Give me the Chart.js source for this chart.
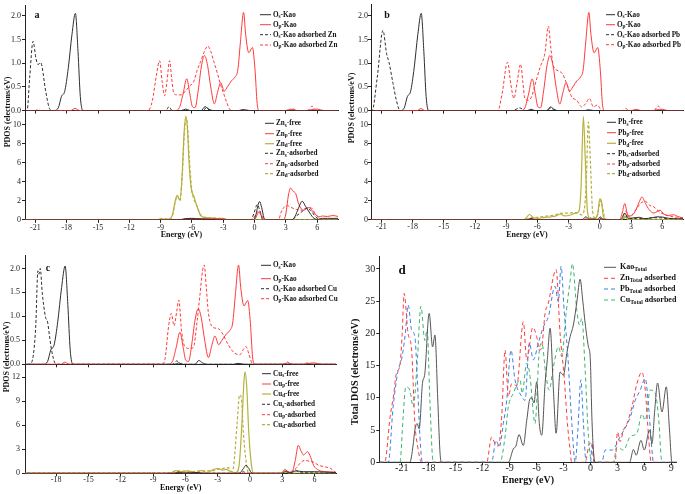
<!DOCTYPE html>
<html><head><meta charset="utf-8">
<script src="https://cdn.jsdelivr.net/npm/chart.js@4.4.1/dist/chart.umd.min.js"></script>
<style>
html,body{margin:0;padding:0;background:#fff;width:685px;height:494px;overflow:hidden}
#wrap{position:relative;width:685px;height:494px}
#wrap canvas{position:absolute;left:0;top:0}
</style></head>
<body><div id="wrap"></div>
<script>
// ---------- tick labels ----------
const xTicksAB = [-21,-18,-15,-12,-9,-6,-3,0,3,6];
const xTicksC = [-18,-15,-12,-9,-6,-3,0,3,6];
const xTicksD = [-21,-18,-15,-12,-9,-6,-3,0,3,6,9];
const yTicksTop = [0,0.5,1,1.5,2];
const yTicksZnPb = [0,2,4,6,8,10];
const yTicksCu = [0,3,6,9,12];
const yTicksD = [0,5,10,15,20,25,30];

// ---------- free kaolinite O PDOS (energy eV, electrons/eV) ----------
const kaoOs = [[-23,0],[-19.2,0],[-18.8,0.06],[-18.5,0.3],[-18.2,0.4],[-17.85,0.9],[-17.5,1.6],[-17.17,2.05],[-16.92,1.25],[-16.7,0.3],[-16.45,0],[-7,0],[-6.6,0.03],[-6.2,0],[-5.1,0],[-4.75,0.08],[-4.4,0.03],[-4.0,0],[-1.5,0],[-1.1,0.02],[-0.5,0],[8,0]];
const kaoOp = [[-23,0],[-17.6,0],[-17.2,0.045],[-16.8,0],[-7.6,0],[-7.2,0.06],[-6.85,0.35],[-6.5,0.67],[-6.2,0.35],[-5.95,0.08],[-5.7,0.06],[-5.4,0.42],[-5.1,0.92],[-4.8,1.16],[-4.5,0.95],[-4.2,0.5],[-3.85,0.14],[-3.55,0.38],[-3.25,0.59],[-2.9,0.41],[-2.6,0.5],[-2.2,0.63],[-1.85,0.71],[-1.6,0.86],[-1.35,1.45],[-1.05,2.07],[-0.85,1.6],[-0.55,1.22],[-0.2,1.33],[0.05,0.85],[0.25,0.15],[0.45,0],[3,0],[3.5,0.03],[4,0],[5,0],[5.5,0.02],[6,0.03],[6.6,0],[8,0]];

// ---------- O PDOS of kaolinite after adsorption ----------
const znOs = [[-23,0],[-21.8,0],[-21.55,0.7],[-21.23,1.46],[-20.95,1.1],[-20.75,0.97],[-20.5,1.01],[-20.02,0.41],[-19.7,0.07],[-19.45,0],[-8.5,0],[-8.2,0.08],[-7.9,0],[-4.9,0],[-4.6,0.07],[-4.3,0],[8,0]];
const znOp = [[-23,0],[-21,0],[-20.8,0.02],[-20.5,0],[-10.2,0],[-9.8,0.2],[-9.4,0.75],[-9.1,1.05],[-8.85,0.6],[-8.62,0.31],[-8.4,0.6],[-8.14,1.05],[-7.95,0.7],[-7.73,0.36],[-7.4,0.33],[-7.0,0.33],[-6.6,0.42],[-6.2,0.52],[-5.81,0.62],[-5.5,0.85],[-5.17,1.03],[-4.8,1.25],[-4.47,1.36],[-4.2,1.25],[-3.9,1.03],[-3.55,0.78],[-3.26,0.55],[-2.95,0.35],[-2.68,0.18],[-2.4,0.03],[-2.2,0],[3.3,0],[3.7,0.03],[4.1,0],[5.1,0],[5.5,0.09],[5.9,0],[8,0]];
const pbOs = [[-23,0],[-21.9,0],[-21.4,0.7],[-20.85,1.69],[-20.5,1.2],[-20.27,1.02],[-19.88,0.57],[-19.56,0.22],[-19.2,0],[-8.4,0],[-7.7,0.06],[-7.2,0],[-5.1,0],[-4.7,0.06],[-4.3,0],[8,0]];
const pbOp = [[-23,0],[-9.8,0],[-9.4,0.35],[-8.87,1.02],[-8.55,0.55],[-8.26,0.26],[-7.95,0.6],[-7.61,0.98],[-7.4,0.6],[-7.2,0.25],[-6.85,0.22],[-6.55,0.3],[-6.07,0.67],[-5.75,0.91],[-5.27,1.22],[-4.95,1.78],[-4.7,1.3],[-4.47,0.95],[-3.99,0.84],[-3.6,0.78],[-3.18,0.57],[-2.7,0.29],[-2.22,0.22],[-1.73,0.08],[-1.35,0.15],[-1.0,0.26],[-0.62,0.08],[-0.23,0.12],[0.2,0],[2.2,0],[2.5,0.05],[2.8,0],[5.2,0],[5.6,0.1],[6.0,0],[8,0]];
const cuOs = [[-23,0],[-20.5,0],[-20.2,0.1],[-19.9,0.8],[-19.7,1.95],[-19.6,1.88],[-19.48,2.0],[-19.3,1.5],[-19.0,0.99],[-18.8,0.88],[-18.6,0.55],[-18.4,0.26],[-18.1,0.02],[-17.9,0],[-7.2,0],[-6.8,0.07],[-6.4,0],[8,0]];
const cuOp = [[-23,0],[-8.2,0],[-7.9,0.1],[-7.55,0.8],[-7.3,1.06],[-7.05,0.8],[-6.8,1.1],[-6.6,1.34],[-6.35,0.7],[-6.05,0.37],[-5.6,0.33],[-5.26,0.35],[-4.9,0.9],[-4.64,1.45],[-4.4,1.95],[-4.24,2.07],[-4.05,1.6],[-3.87,1.1],[-3.56,0.8],[-3.1,0.75],[-2.78,0.72],[-2.45,0.6],[-2.16,0.47],[-1.55,0.26],[-0.93,0.2],[-0.55,0.33],[-0.37,0.37],[-0.1,0.22],[0.2,0.02],[0.35,0],[3.2,0],[3.5,0.05],[3.8,0],[5,0],[5.3,0.03],[5.6,0],[8,0]];

// ---------- metal PDOS: Zn ----------
const znSFree = [[-23,0],[-7.2,0],[-6.6,0.12],[-6.0,0.15],[-5.3,0.1],[-4.5,0.05],[-3.8,0],[-0.1,0],[0.15,0.6],[0.3,1.4],[0.48,1.93],[0.68,1.3],[0.9,0.2],[1.1,0],[3.6,0],[3.9,0.4],[4.2,1.2],[4.57,1.95],[4.9,1.4],[5.3,0.7],[5.7,0.15],[6.1,0.05],[6.5,0.15],[7,0.15],[8,0.15]];
const znPFree = [[-23,0],[-7.2,0],[-6.6,0.1],[-5.5,0.1],[-4.2,0.12],[-3,0.1],[-2.5,0],[0,0],[0.2,0.4],[0.45,0.85],[0.7,0.4],[0.95,0],[2.8,0],[3.0,0.6],[3.25,2.6],[3.45,3.34],[3.7,3.0],[3.95,2.75],[4.25,1.6],[4.7,1.0],[5.2,1.3],[5.65,0.8],[6.15,0.3],[6.5,0.4],[7.0,0.35],[7.5,0.45],[8,0.35]];
const znDFree = [[-23,0],[-9.3,0],[-9.0,0.1],[-8.5,0.05],[-8.1,0.1],[-7.85,0.6],[-7.6,2.0],[-7.41,2.57],[-7.15,2.1],[-6.95,4.5],[-6.75,9.2],[-6.58,10.9],[-6.42,9.4],[-6.29,6.3],[-6.07,3.3],[-5.81,2.46],[-5.49,1.33],[-5.17,0.45],[-4.8,0.25],[-4.2,0.2],[-3.5,0.1],[-3.0,0.15],[-2.6,0],[8,0]];
const znSAds = [[-23,0],[-7,0],[-6.5,0.1],[-6,0],[-0.35,0],[-0.05,0.7],[0.26,1.6],[0.5,1.0],[0.8,0],[3.6,0],[4.0,0.4],[4.5,0.8],[4.9,1.2],[5.36,1.0],[5.8,0.4],[6.2,0.05],[6.6,0],[8,0]];
const znPAds = [[-23,0],[-0.3,0],[0.1,0.5],[0.35,0.9],[0.6,0.5],[0.85,0],[2.3,0],[2.55,0.8],[2.81,1.3],[3.13,1.5],[3.5,1.3],[4.0,1.1],[4.6,1.0],[5.0,1.2],[5.36,1.3],[5.8,0.7],[6.3,0.1],[6.6,0],[8,0]];
const znDAds = [[-23,0],[-9.3,0],[-8.9,0.1],[-8.1,0.1],[-7.85,0.5],[-7.6,1.9],[-7.38,2.45],[-7.15,2.0],[-6.95,4.2],[-6.73,9.0],[-6.55,10.7],[-6.4,9.5],[-6.25,6.5],[-6.02,3.2],[-5.85,2.3],[-5.5,1.4],[-5.15,0.5],[-4.7,0.25],[-4.0,0.2],[-3.3,0.15],[-2.7,0],[8,0]];

// ---------- metal PDOS: Pb ----------
const pbSFree = [[-23,0],[-7,0],[-6.6,0.12],[-6.2,0],[-1.7,0],[-1.35,0.3],[-1.0,0.05],[-0.2,0.05],[0.05,0.3],[0.3,0.05],[2.0,0],[2.4,0.7],[2.7,0.15],[3.3,0.2],[3.8,0.25],[4.3,0.1],[5,0.2],[5.5,0.3],[6,0.28],[6.6,0.15],[7.5,0.1],[8,0.1]];
const pbPFree = [[-23,0],[-7,0],[-6.6,0.1],[-6.2,0],[-1.6,0],[-1.3,0.1],[-1,0],[1.9,0],[2.15,0.7],[2.4,1.7],[2.65,0.6],[2.9,0.4],[3.2,0.55],[3.5,1.1],[3.8,1.9],[4.05,2.4],[4.4,1.7],[4.75,1.05],[5.2,0.7],[5.5,0.85],[5.8,1.0],[6.15,0.6],[6.6,0.45],[7.1,0.52],[7.5,0.35],[8,0.15]];
const pbDFree = [[-23,0],[-7.3,0],[-7.0,0.3],[-6.75,0.55],[-6.45,0.25],[-6.0,0.15],[-5.3,0.25],[-4.7,0.3],[-4.2,0.4],[-3.8,0.6],[-3.4,0.4],[-2.8,0.5],[-2.3,0.7],[-2.0,0.9],[-1.8,3.5],[-1.58,10.9],[-1.4,6.5],[-1.2,1.0],[-0.95,0.15],[-0.5,0.15],[-0.2,0.6],[0.0,2.2],[0.15,2.0],[0.35,0.3],[0.6,0],[2.1,0],[2.4,0.35],[2.7,0],[8,0]];
const pbSAds = [[-23,0],[-7,0],[-6.6,0.08],[-6.2,0],[-1.2,0],[-0.95,0.2],[-0.7,0],[-0.1,0],[0.1,0.15],[0.3,0],[2.1,0],[2.5,0.5],[2.8,0.1],[3.6,0.15],[4.2,0.1],[5.0,0.2],[5.8,0.2],[6.5,0.1],[8,0.05]];
const pbPAds = [[-23,0],[2.1,0],[2.5,0.9],[2.75,0.35],[3.1,0.5],[3.5,1.1],[3.9,1.7],[4.36,1.95],[4.8,1.5],[5.2,1.35],[5.6,0.95],[6.2,0.55],[6.8,0.35],[7.5,0.25],[8,0.2]];
const pbDAds = [[-23,0],[-7.3,0],[-6.8,0.15],[-6.0,0.25],[-5.0,0.4],[-4.3,0.5],[-3.9,0.65],[-3.5,0.7],[-3.0,0.7],[-2.5,0.75],[-2.1,0.7],[-1.75,0.5],[-1.5,1.0],[-1.3,4],[-1.1,10.3],[-0.9,6],[-0.7,1.0],[-0.45,0.2],[-0.2,0.6],[0.05,2.0],[0.25,1.4],[0.5,0.1],[0.7,0],[2.2,0],[2.5,0.3],[2.8,0],[8,0]];

// ---------- metal PDOS: Cu ----------
const cuSFree = [[-23,0],[-7,0],[-6.7,0.15],[-6.2,0.05],[-4.8,0.1],[-4.4,0],[-1.0,0],[-0.6,0.6],[-0.37,1.0],[-0.1,0.6],[0.2,0],[3,0],[3.3,0.2],[3.8,0.1],[4.3,0.3],[5,0.2],[6,0.2],[7,0.15],[8,0.1]];
const cuPFree = [[-23,0],[-7,0],[-6.7,0.1],[-6.3,0],[-4.8,0],[-4.5,0.05],[-4.2,0],[2.9,0],[3.1,0.3],[3.25,0.5],[3.5,0.2],[3.9,0.1],[4.2,1.5],[4.5,3.5],[4.75,2.8],[4.98,2.3],[5.36,2.7],[5.65,2.0],[5.92,1.0],[6.39,0.4],[7,0.2],[7.8,0.15],[8,0.1]];
const cuDFree = [[-23,0],[-8,0],[-7.2,0.1],[-6.9,0.35],[-6.5,0.2],[-5.8,0.3],[-5,0.1],[-4.5,0.35],[-4,0.1],[-3.5,0.4],[-3.0,0.6],[-2.5,0.4],[-2.2,0.5],[-1.8,0.2],[-1.3,0.1],[-1.0,1.0],[-0.75,6],[-0.55,11.5],[-0.45,12.7],[-0.3,11],[-0.1,5],[0.15,1.0],[0.35,0],[3.0,0],[3.3,0.3],[3.6,0],[8,0]];
const cuSAds = [[-23,0],[-0.9,0],[-0.6,0.2],[-0.3,0],[3.8,0],[4.2,0.4],[4.5,0.2],[5,0.1],[6,0.05],[8,0]];
const cuPAds = [[-23,0],[-7,0],[-6.7,0.05],[-6.4,0],[3.0,0],[3.3,0.4],[3.6,0.2],[4.2,0.5],[4.7,1.3],[5.1,1.63],[5.5,1.5],[5.9,1.4],[6.4,1.0],[7.0,0.8],[7.5,0.6],[7.9,0.2],[8,0.1]];
const cuDAds = [[-23,0],[-8,0],[-7,0.2],[-6.5,0.3],[-5.5,0.2],[-4.5,0.3],[-3.5,0.3],[-3,0.5],[-2.5,0.6],[-2.0,0.7],[-1.7,0.2],[-1.5,1],[-1.2,6],[-0.95,9.8],[-0.8,9.5],[-0.6,5],[-0.3,1],[-0.1,0],[2.9,0],[3.2,0.3],[3.5,0],[8,0]];

// ---------- total DOS ----------
const kaoTotal = [[-23.5,0],[-20.1,0],[-19.75,2.5],[-19.54,5.0],[-19.3,6.0],[-19.06,5.2],[-18.7,12.2],[-18.43,13.8],[-17.95,23.1],[-17.57,17.9],[-17.31,19.75],[-17.0,10],[-16.76,1.9],[-16.6,0],[-9.14,0],[-8.58,2.1],[-8.3,2.5],[-7.95,4.3],[-7.47,2.6],[-7.09,6.5],[-6.72,9.9],[-6.54,10],[-6.28,9.2],[-5.98,12.5],[-5.69,6],[-5.42,4.2],[-5.05,12.2],[-4.8,15.9],[-4.49,20.8],[-4.12,11.2],[-3.82,4.5],[-3.38,14.0],[-3.01,13.5],[-2.63,16.9],[-2.26,19.5],[-1.9,21.3],[-1.5,25],[-1.15,28.4],[-0.85,25],[-0.59,21.6],[-0.22,17.9],[-0.03,16.4],[0.16,7],[0.3,2.5],[0.52,0],[4.35,0],[4.79,2.0],[5.09,1.1],[5.62,3.4],[5.99,1.9],[6.58,5.0],[6.85,2.9],[7.15,8],[7.47,12.3],[7.96,7.8],[8.44,11.7],[8.8,5],[9.07,0],[9.6,0]];
const znTotal = [[-23.5,0],[-22.9,0],[-22.3,7],[-21.9,10.5],[-21.6,13.8],[-21.2,15.1],[-20.95,20],[-20.74,26.2],[-20.3,20],[-19.9,17.4],[-19.54,6],[-19.28,2.9],[-18.8,0],[-11.55,0],[-11.0,3.9],[-10.62,2.9],[-10.25,2.5],[-9.88,7],[-9.5,17.4],[-9.14,10.2],[-8.76,12.2],[-8.2,11.9],[-7.47,21.8],[-7.09,15.9],[-6.42,20.9],[-5.98,19.5],[-5.69,17.4],[-5.42,17.9],[-5.05,23.1],[-4.68,24.7],[-4.12,28.8],[-3.82,29.9],[-3.38,20],[-2.93,13.3],[-2.56,6],[-2.26,1.9],[-2.1,0],[-0.59,0],[-0.11,2.9],[0.16,3.0],[0.42,0],[2.75,0],[3.01,4.7],[3.3,3.2],[3.68,5.0],[4.06,6.0],[4.62,8.6],[5.17,12.2],[5.73,14],[6.1,11.2],[6.47,4],[6.76,0],[9.6,0]];
const pbTotal = [[-23.5,0],[-22.5,0],[-21.96,8.6],[-21.4,14.3],[-21.03,15.9],[-20.6,20],[-20.29,24.4],[-19.9,20.5],[-19.54,19.5],[-19.28,13.3],[-18.98,4],[-18.7,0],[-11.0,0],[-10.51,3.4],[-10.14,2.4],[-9.7,6],[-9.32,9.6],[-8.84,17.4],[-8.4,12.8],[-7.65,10.2],[-7.28,9.6],[-6.8,18.5],[-6.35,15.9],[-5.8,18.5],[-5.24,21.0],[-4.68,22.6],[-3.94,27.3],[-3.57,24.9],[-3.27,30.4],[-2.93,23.6],[-2.56,17.4],[-2.07,6],[-1.7,0],[-1.4,5],[-1.07,12.8],[-0.78,6],[-0.48,0],[0.0,0],[0.2,3],[0.4,0],[1.27,0],[1.64,1.9],[2.39,1.9],[3.31,4],[4.43,7],[4.98,9.6],[5.54,11.2],[6.1,13],[6.47,8.6],[6.85,1.9],[7.0,0],[9.6,0]];
const cuTotal = [[-23.5,0],[-21.2,0],[-20.85,7],[-20.55,11.7],[-20.1,11.2],[-19.73,8.6],[-19.3,15],[-18.87,24.2],[-18.43,18.9],[-18.17,20.6],[-17.87,9.6],[-17.5,0],[-10.07,0],[-9.5,4],[-9.14,8.6],[-8.58,10.7],[-7.84,12.8],[-7.6,10.7],[-7.09,15.4],[-6.72,13.3],[-6.35,7.5],[-6.17,6],[-5.69,17.4],[-5.4,18.5],[-5.0,14],[-4.6,11.2],[-4.12,14.8],[-3.57,17.9],[-3.19,16.4],[-2.71,23.1],[-2.26,28.2],[-2.0,30.8],[-1.52,23.6],[-1.22,21.3],[-0.96,22.3],[-0.59,14.3],[-0.22,4],[0.16,0],[2.56,0],[2.94,2.4],[3.68,1.9],[4.43,4],[5.17,4.5],[5.73,7.5],[6.1,6.5],[6.66,11.2],[7.21,10.7],[7.58,7],[7.96,0],[9.6,0]];

// ---------- drawing ----------
const W = 685, H = 494;
const FF = '"Liberation Serif","Times New Roman",serif';
const BLK = '#2e2e2e', RED = '#ff3a3a', OLV = '#b6b13c';
const BLUE = '#3b7fe6', GRN = '#3cb46e', GRY = '#555555';
const DS = [3, 2], DD = [4, 3];

function rich(ctx, str, x, y, size, align) {
  const parts = []; const re = /\{([^}]*)\}|([^{]+)/g; let m;
  while ((m = re.exec(str))) parts.push(m[1] !== undefined ? {t: m[1], sub: true} : {t: m[2], sub: false});
  const f = sub => 'bold ' + (sub ? size * 0.72 : size) + 'px ' + FF;
  let w = 0;
  parts.forEach(p => { ctx.font = f(p.sub); p.w = ctx.measureText(p.t).width; w += p.w; });
  let cx = align === 'center' ? x - w / 2 : x;
  ctx.textAlign = 'left'; ctx.textBaseline = 'middle';
  parts.forEach(p => { ctx.font = f(p.sub); ctx.fillText(p.t, cx, p.sub ? y + size * 0.3 : y); cx += p.w; });
}

const deco = {
  id: 'deco',
  afterDraw(chart, args, o) {
    const ctx = chart.ctx;
    (o.texts || []).forEach(t => {
      ctx.save(); ctx.fillStyle = '#111';
      ctx.translate(t.x, t.y); if (t.rot) ctx.rotate(-Math.PI / 2);
      rich(ctx, t.text, 0, 0, t.size, 'center');
      ctx.restore();
    });
    const lg = o.legend;
    if (lg) chart.data.datasets.forEach((ds, i) => {
      const y = lg.ys[i];
      ctx.save();
      ctx.strokeStyle = ds.borderColor; ctx.lineWidth = ds.borderWidth;
      ctx.setLineDash(ds.borderDash || []);
      ctx.beginPath(); ctx.moveTo(lg.x0, y); ctx.lineTo(lg.x1, y); ctx.stroke();
      ctx.setLineDash([]); ctx.fillStyle = '#111';
      rich(ctx, ds.label, lg.tx, y, lg.size, 'left');
      ctx.restore();
    });
  }
};

const wrap = document.getElementById('wrap');
function mk(o) {
  const cv = document.createElement('canvas');
  cv.width = W; cv.height = H; cv.style.width = W + 'px'; cv.style.height = H + 'px';
  wrap.appendChild(cv);
  const axisCol = '#222';
  return new Chart(cv.getContext('2d'), {
    type: 'line',
    data: {datasets: o.series.map(s => ({
      label: s.label, data: s.data.map(p => ({x: p[0], y: p[1]})),
      borderColor: s.color, borderWidth: s.w || 1, borderDash: s.dash || [],
      pointRadius: 0, fill: false, cubicInterpolationMode: 'monotone'
    }))},
    options: {
      responsive: false, animation: false, devicePixelRatio: 1, events: [],
      layout: {padding: {left: o.box.l - o.yw, top: o.box.t, right: W - o.box.r, bottom: H - o.box.b - o.xh}},
      plugins: {legend: {display: false}, tooltip: {enabled: false}, deco: {texts: o.texts, legend: o.legend}},
      scales: {
        x: {
          type: 'linear', min: o.xr[0], max: o.xr[1],
          afterFit: s => { s.height = o.xh; },
          afterBuildTicks: s => { s.ticks = o.xt.map(v => ({value: v})); },
          grid: {display: true, drawOnChartArea: false, drawTicks: true, tickLength: 3, tickColor: axisCol, color: axisCol},
          border: {display: true, color: axisCol, width: 1},
          ticks: {display: !!o.xlab, font: {family: FF, size: o.fs, lineHeight: o.flh || 1.2}, color: '#222', padding: o.xpad || 0, maxRotation: 0, autoSkip: false, callback: v => String(v)},
          title: {display: !!o.xtitle, text: o.xtitle || '', font: {family: FF, size: o.tfs || 8, weight: 'bold'}, color: '#111', padding: {top: 0, bottom: 0}}
        },
        y: {
          type: 'linear', min: o.yr[0], max: o.yr[1],
          afterFit: s => { s.width = o.yw; },
          afterBuildTicks: s => { s.ticks = o.yt.map(v => ({value: v})); },
          grid: {display: true, drawOnChartArea: false, drawTicks: true, tickLength: 3, tickColor: axisCol, color: axisCol},
          border: {display: true, color: axisCol, width: 1},
          ticks: {font: {family: FF, size: o.fs}, color: '#222', padding: o.ypad || 0, autoSkip: false, callback: o.yfmt || (v => String(v))},
          title: {display: false}
        }
      }
    },
    plugins: [deco]
  });
}
const f1 = v => v.toFixed(1);
const LF = 7.2;

// ----- panel a -----
mk({box: {l: 25, t: 3, r: 338, b: 110.5}, yw: 25, xh: 6, xr: [-22, 8], yr: [0, 2.21], xt: xTicksAB, yt: yTicksTop, fs: 8, ypad: 1, yfmt: f1,
  series: [
    {label: 'O{s}-Kao', data: kaoOs, color: BLK},
    {label: 'O{p}-Kao', data: kaoOp, color: RED},
    {label: 'O{s}-Kao adsorbed Zn', data: znOs, color: BLK, dash: DS},
    {label: 'O{p}-Kao adsorbed Zn', data: znOp, color: RED, dash: DS}],
  legend: {x0: 260, x1: 271, tx: 273, size: LF, ys: [14.7, 24.7, 34.7, 45]},
  texts: [{text: 'a', x: 37, y: 15, size: 10}]});
mk({box: {l: 25, t: 110.5, r: 338, b: 219.8}, yw: 25, xh: 20, xr: [-22, 8], yr: [0, 11.5], xt: xTicksAB, yt: yTicksZnPb, fs: 8, ypad: 1, xlab: true, xpad: 0, xtitle: 'Energy (eV)', tfs: 8,
  series: [
    {label: 'Zn{s}-free', data: znSFree, color: BLK},
    {label: 'Zn{p}-free', data: znPFree, color: RED},
    {label: 'Zn{d}-free', data: znDFree, color: OLV, w: 1.2},
    {label: 'Zn{s}-adsorbed', data: znSAds, color: BLK, dash: DS},
    {label: 'Zn{p}-adsorbed', data: znPAds, color: RED, dash: DS},
    {label: 'Zn{d}-adsorbed', data: znDAds, color: OLV, dash: DS, w: 1.2}],
  legend: {x0: 265, x1: 274, tx: 276, size: LF, ys: [123.3, 133.7, 143.7, 153.3, 163.7, 173.7]},
  texts: [{text: 'PDOS (electrons/eV)', x: 8, y: 112, size: 8, rot: true}]});

// ----- panel b -----
mk({box: {l: 371, t: 3, r: 683, b: 110.7}, yw: 30, xh: 6, xr: [-22, 8], yr: [0, 2.23], xt: xTicksAB, yt: yTicksTop, fs: 8, ypad: 0, yfmt: f1,
  series: [
    {label: 'O{s}-Kao', data: kaoOs, color: BLK},
    {label: 'O{p}-Kao', data: kaoOp, color: RED},
    {label: 'O{s}-Kao adsorbed Pb', data: pbOs, color: BLK, dash: DS},
    {label: 'O{p}-Kao adsorbed Pb', data: pbOp, color: RED, dash: DS}],
  legend: {x0: 606, x1: 615, tx: 617, size: LF, ys: [14.7, 24.7, 34.7, 44.7]},
  texts: [{text: 'b', x: 387, y: 15, size: 10}]});
mk({box: {l: 371, t: 110.7, r: 683, b: 219.7}, yw: 30, xh: 20, xr: [-22, 8], yr: [0, 11.5], xt: xTicksAB, yt: yTicksZnPb, fs: 8, ypad: 0, xlab: true, xpad: -1, xtitle: 'Energy (eV)', tfs: 8,
  series: [
    {label: 'Pb{s}-free', data: pbSFree, color: BLK},
    {label: 'Pb{p}-free', data: pbPFree, color: RED},
    {label: 'Pb{d}-free', data: pbDFree, color: OLV, w: 1.2},
    {label: 'Pb{s}-adsorbed', data: pbSAds, color: BLK, dash: DS},
    {label: 'Pb{p}-adsorbed', data: pbPAds, color: RED, dash: DS},
    {label: 'Pb{d}-adsorbed', data: pbDAds, color: OLV, dash: DS, w: 1.2}],
  legend: {x0: 607, x1: 616, tx: 618, size: LF, ys: [122.3, 132.7, 143.3, 153.7, 164, 173.7]},
  texts: [{text: 'PDOS (electrons/eV)', x: 352, y: 108, size: 8, rot: true}]});

// ----- panel c -----
mk({box: {l: 25, t: 255, r: 336.5, b: 364.3}, yw: 25, xh: 6, xr: [-20.9, 8.05], yr: [0, 2.28], xt: xTicksC, yt: yTicksTop, fs: 8, ypad: 2, yfmt: f1,
  series: [
    {label: 'O{s}-Kao', data: kaoOs, color: BLK},
    {label: 'O{p}-Kao', data: kaoOp, color: RED},
    {label: 'O{s}-Kao adsorbed Cu', data: cuOs, color: BLK, dash: DS},
    {label: 'O{p}-Kao adsorbed Cu', data: cuOp, color: RED, dash: DS}],
  legend: {x0: 261, x1: 271, tx: 273, size: LF, ys: [265.3, 278.7, 288.7, 298.7]},
  texts: [{text: 'c', x: 48, y: 268, size: 10}]});
mk({box: {l: 25, t: 364.3, r: 336.5, b: 473.3}, yw: 25, xh: 19.8, xr: [-20.9, 8.05], yr: [0, 13.63], xt: xTicksC, yt: yTicksCu, fs: 8, ypad: 2, xlab: true, xpad: -1, xtitle: 'Energy (eV)', tfs: 8,
  series: [
    {label: 'Cu{s}-free', data: cuSFree, color: BLK},
    {label: 'Cu{p}-free', data: cuPFree, color: RED},
    {label: 'Cu{d}-free', data: cuDFree, color: OLV, w: 1.2},
    {label: 'Cu{s}-adsorbed', data: cuSAds, color: BLK, dash: DS},
    {label: 'Cu{p}-adsorbed', data: cuPAds, color: RED, dash: DS},
    {label: 'Cu{d}-adsorbed', data: cuDAds, color: OLV, dash: DS, w: 1.2}],
  legend: {x0: 262, x1: 271, tx: 273, size: LF, ys: [373.7, 384, 394, 404.3, 414.7, 424.7]},
  texts: [{text: 'PDOS (electrons/eV)', x: 7, y: 357, size: 8, rot: true}]});

// ----- panel d -----
mk({box: {l: 379.3, t: 256, r: 676.7, b: 462.3}, yw: 30, xh: 23.7, xr: [-23.5, 9.6], yr: [0, 32], xt: xTicksD, yt: yTicksD, fs: 10, flh: 1, ypad: 1, xlab: true, xpad: -2, xtitle: 'Energy (eV)', tfs: 10,
  series: [
    {label: 'Kao{Total}', data: kaoTotal, color: GRY},
    {label: 'Zn{Total} adsorbed', data: znTotal, color: RED, dash: DD},
    {label: 'Pb{Total} adsorbed', data: pbTotal, color: BLUE, dash: DD},
    {label: 'Cu{Total} adsorbed', data: cuTotal, color: GRN, dash: DD}],
  legend: {x0: 604, x1: 616, tx: 620, size: 8, ys: [267.3, 278.3, 289, 300]},
  texts: [{text: 'd', x: 402, y: 271, size: 13},
          {text: 'Total DOS (electrons/eV)', x: 355, y: 372, size: 10, rot: true}]});
</script>
</body></html>
